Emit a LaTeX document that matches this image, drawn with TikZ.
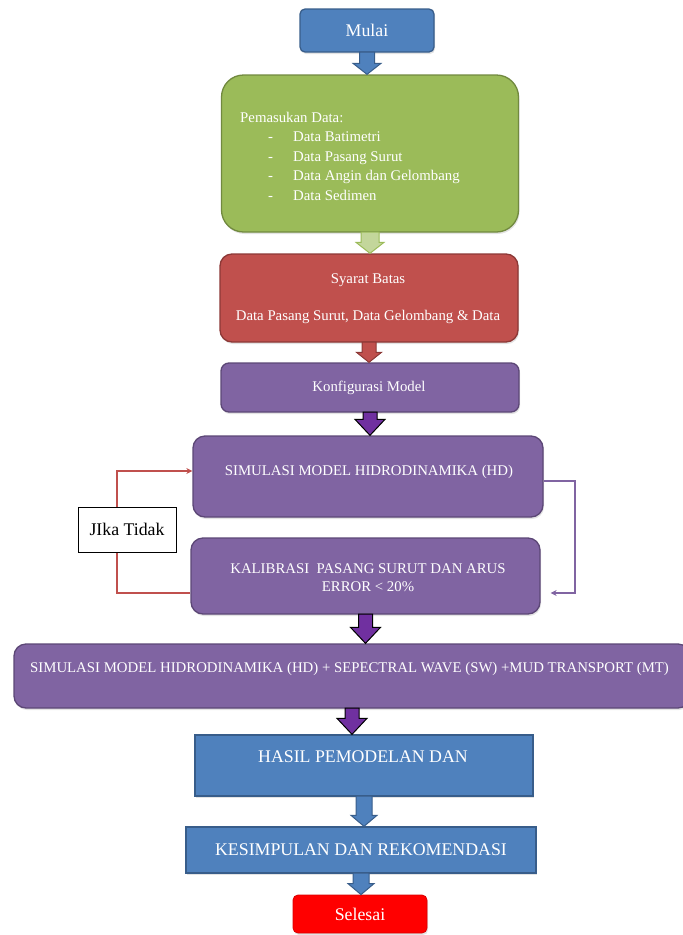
\documentclass[tikz,border=0pt]{standalone}
\usepackage{fontspec}
\setmainfont{Liberation Serif}
\usetikzlibrary{arrows.meta,shadows,calc}
\definecolor{bfill}{HTML}{4F81BD}
\definecolor{bdraw}{HTML}{385D8A}
\definecolor{gfill}{HTML}{9BBB59}
\definecolor{gdraw}{HTML}{71893F}
\definecolor{glight}{HTML}{C3D69B}
\definecolor{rfill}{HTML}{C0504D}
\definecolor{rdraw}{HTML}{8C3836}
\definecolor{pfill}{HTML}{8064A2}
\definecolor{pdraw}{HTML}{5C4776}
\definecolor{parrow}{HTML}{7030A0}
\newcommand\fsmall{\fontsize{14.8}{19}\selectfont}
\newcommand\fbig{\fontsize{17.8}{21}\selectfont}
\newcommand\blockarrow[7]{%
  \path[fill=#3,draw=#4,line width=1pt,line join=miter]
    let \p1=(#1.south), \p2=(#2.north) in
    (\x1-#5pt,\y1+0.5pt) -- (\x1-#5pt,\y2+#7pt) -- (\x1-#6pt,\y2+#7pt) -- (\x1,\y2)
    -- (\x1+#6pt,\y2+#7pt) -- (\x1+#5pt,\y2+#7pt) -- (\x1+#5pt,\y1+0.5pt) -- cycle;}
\tikzset{
  box/.style={draw, line width=1.3pt, inner sep=0pt, text=white,
    drop shadow={shadow xshift=1pt,shadow yshift=-2pt,opacity=0.22}},
  bluebox/.style={box, fill=bfill, draw=bdraw},
  greenbox/.style={box, fill=gfill, draw=gdraw},
  redbox/.style={box, fill=rfill, draw=rdraw},
  purplebox/.style={box, fill=pfill, draw=pdraw},
  wtext/.style={text=white, inner sep=0pt, anchor=base},
  wleft/.style={text=white, inner sep=0pt, anchor=base west},
  redc/.style={draw=rfill, line width=1.8pt, -{Stealth[length=6pt,width=6pt]}},
  purc/.style={draw=pfill, line width=1.8pt, -{Stealth[length=6pt,width=6pt]}},
}
\begin{document}
\begin{tikzpicture}[x=1pt,y=-1pt]
\useasboundingbox (0,0) rectangle (683,935);

% boxes
\node[bluebox, rounded corners=5pt, minimum width=134pt, minimum height=43pt, font=\fbig] (mulai) at (367,30.5) {Mulai};
\node[greenbox, rounded corners=22pt, minimum width=297pt, minimum height=157pt] (input) at (370,153.5) {};
\node[redbox, rounded corners=12pt, minimum width=298pt, minimum height=88pt] (batas) at (369,298) {};
\node[purplebox, rounded corners=8pt, minimum width=298pt, minimum height=49pt] (konfig) at (370,387.5) {};
\node[purplebox, rounded corners=12pt, minimum width=350pt, minimum height=81pt] (simhd) at (368,476.5) {};
\node[purplebox, rounded corners=12pt, minimum width=349pt, minimum height=76pt] (kal) at (365.5,576) {};
\node[purplebox, rounded corners=12pt, minimum width=676pt, minimum height=64pt] (simall) at (352,676) {};
\node[bluebox, minimum width=338pt, minimum height=61pt] (hasil) at (364,765.5) {};
\node[bluebox, minimum width=350pt, minimum height=46pt, font=\fbig] (kesim) at (361,850) {KESIMPULAN DAN REKOMENDASI};
\node[box, fill=red, draw=red!85!black, line width=0.8pt, rounded corners=5pt, minimum width=134pt, minimum height=38pt, font=\fbig] (selesai) at (360,914) {Selesai};

% block arrows
\blockarrow{mulai}{input}{bfill}{bdraw}{7.5}{14}{11}
\blockarrow{input}{batas}{glight}{gfill}{9}{14}{11}
\blockarrow{batas}{konfig}{rfill}{rdraw}{7}{12.5}{10}
\blockarrow{konfig}{simhd}{parrow}{black}{7}{15}{16}
\blockarrow{kal}{simall}{parrow}{black}{7}{15}{16}
\blockarrow{simall}{hasil}{parrow}{black}{7}{15}{16}
\blockarrow{hasil}{kesim}{bfill}{bdraw}{8}{13}{11}
\blockarrow{kesim}{selesai}{bfill}{bdraw}{8}{13}{11}

% texts
\node[wleft, font=\fsmall] (t1) at (240,122) {Pemasukan Data:};
\node[wleft, font=\fsmall] (d1) at (268,141) {-};
\node[wleft, font=\fsmall] (d2) at (268,161) {-};
\node[wleft, font=\fsmall] (d3) at (268,180) {-};
\node[wleft, font=\fsmall] (d4) at (268,200) {-};
\node[wleft, font=\fsmall] (i1) at (293,141) {Data Batimetri};
\node[wleft, font=\fsmall] (i2) at (293,161) {Data Pasang Surut};
\node[wleft, font=\fsmall] (i3) at (293,180) {Data Angin dan Gelombang};
\node[wleft, font=\fsmall] (i4) at (293,200) {Data Sedimen};
\node[wtext, font=\fsmall] (sb) at (368,283) {Syarat Batas};
\node[wtext, font=\fsmall] (sb2) at (368,320) {Data Pasang Surut, Data Gelombang \& Data};
\node[wtext, font=\fsmall] (kt) at (369,391) {Konfigurasi Model};
\node[wtext, font=\fsmall] (st) at (369,475) {SIMULASI MODEL HIDRODINAMIKA (HD)};
\node[wtext, font=\fsmall] (kt1) at (368,573) {KALIBRASI\ \ PASANG SURUT DAN ARUS};
\node[wtext, font=\fsmall] (kt2) at (368,591) {ERROR < 20\%};
\node[wleft, font=\fsmall] (sa) at (30,672) {SIMULASI MODEL HIDRODINAMIKA (HD) + SEPECTRAL WAVE (SW) +MUD TRANSPORT (MT)};
\node[wtext, font=\fbig] (ht) at (363,762) {HASIL PEMODELAN DAN};

% loop connectors
\coordinate (lp) at (117,0);
\coordinate (rp) at (575,0);
\coordinate (rt) at ([yshift=5.5pt]simhd.west);
\coordinate (rb) at ([yshift=-17pt]kal.west);
\coordinate (pe) at ([yshift=-4.5pt]simhd.east);
\coordinate (pk) at ([xshift=10pt,yshift=-17pt]kal.east);
\draw[redc] (rb) -- (rb -| lp) -- (rt -| lp) -- (rt);
\draw[purc] (pe) -- (pe -| rp) -- (pk -| rp) -- (pk);

\node[draw=black, fill=white, line width=1pt, minimum width=98pt, minimum height=45pt, inner sep=0pt, font=\fbig] (jika) at (127,529.5) {JIka Tidak};
\end{tikzpicture}
\end{document}
